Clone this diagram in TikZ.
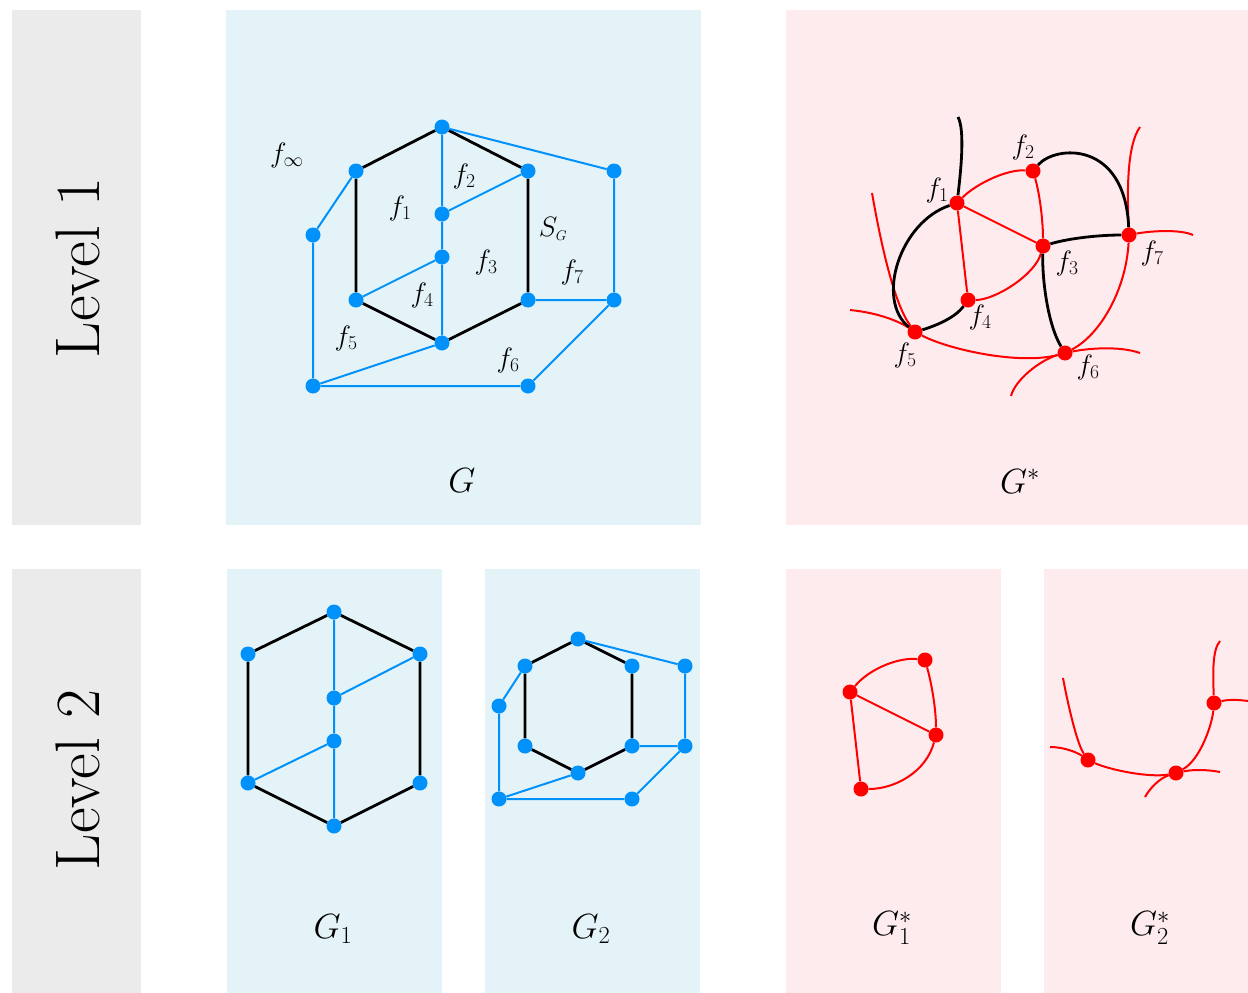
\RequirePackage{fix-cm}
\documentclass[tikz,border=0pt]{standalone}
\usepackage{fontspec}
\usetikzlibrary{backgrounds}
\definecolor{gbg}{RGB}{235,235,235}
\definecolor{bbg}{RGB}{228,243,248}
\definecolor{pbg}{RGB}{254,235,238}
\definecolor{nblue}{RGB}{0,145,250}
\definecolor{nred}{RGB}{255,0,0}
\pgfdeclarelayer{panel}
\pgfdeclarelayer{edges}
\pgfsetlayers{panel,edges,main}
\tikzset{
  bdot/.style={circle,fill=nblue,inner sep=0pt,minimum size=15pt},
  rdot/.style={circle,fill=nred,inner sep=0pt,minimum size=15pt},
  bedge/.style={draw=nblue,line width=2pt},
  hedge/.style={draw=black,line width=2.8pt},
  redge/.style={draw=nred,line width=2pt},
  dedge/.style={draw=black,line width=2.8pt},
  lbl/.style={font=\fontsize{28}{32}\selectfont,inner sep=0pt},
  biglbl/.style={font=\fontsize{35}{40}\selectfont,inner sep=0pt},
  lvl/.style={font=\fontsize{63}{68}\selectfont,rotate=90,inner sep=0pt}
}
\begin{document}
\begin{tikzpicture}[x=1pt,y=-1pt]
\useasboundingbox (0,0) rectangle (1248,993);
\begin{pgfonlayer}{panel}
\fill[gbg] (12,10) rectangle (141,525);
\fill[gbg] (12,569) rectangle (141,993);
\fill[bbg] (226,10) rectangle (701,525);
\fill[pbg] (786,10) rectangle (1248,525);
\fill[bbg] (227,569) rectangle (442,993);
\fill[bbg] (485,569) rectangle (700,993);
\fill[pbg] (786,569) rectangle (1001,993);
\fill[pbg] (1044,569) rectangle (1248,993);
\end{pgfonlayer}

\node[lvl] (lv1) at (78,268) {Level 1};
\node[lvl] (lv2) at (78,780) {Level 2};

% ---------- Level 1: G ----------
\node[bdot] (t) at (442,127) {};
\node[bdot] (ul) at (356,171) {};
\node[bdot] (ur) at (528,171) {};
\node[bdot] (ll) at (356,300) {};
\node[bdot] (lr) at (528,300) {};
\node[bdot] (b) at (442,343) {};
\node[bdot] (iu) at (442,214) {};
\node[bdot] (il) at (442,257) {};
\node[bdot] (rt) at (614,171) {};
\node[bdot] (rb) at (614,300) {};
\node[bdot] (fl) at (313,235) {};
\node[bdot] (bl) at (313,386) {};
\node[bdot] (br) at (528,386) {};
\begin{pgfonlayer}{edges}
\path[hedge] (t) -- (ul) (t) -- (ur) (ul) -- (ll) (ur) -- (lr) (ll) -- (b) (b) -- (lr);
\path[bedge] (t) -- (iu) (iu) -- (ur) (iu) -- (il) (il) -- (ll) (il) -- (b)
  (t) -- (rt) (rt) -- (rb) (lr) -- (rb) (rb) -- (br) (br) -- (bl) (bl) -- (b)
  (bl) -- (fl) (fl) -- (ul);
\end{pgfonlayer}
\node[lbl] (finf) at (287,155) {$f_\infty$};
\node[lbl] (lf1) at (400,208) {$f_1$};
\node[lbl] (lf2) at (464,176) {$f_2$};
\node[lbl] (lf3) at (486,262) {$f_3$};
\node[lbl] (lf4) at (422,295) {$f_4$};
\node[lbl] (lf5) at (346,338) {$f_5$};
\node[lbl] (lf6) at (508,360) {$f_6$};
\node[lbl] (lf7) at (572,272) {$f_7$};
\node[lbl] (sg) at (553,229) {$S_{\scriptscriptstyle G}$};
\node[biglbl] (gl) at (462,481) {$G$};

% ---------- Level 1: G* ----------
\node[rdot] (d1) at (957,203) {};
\node[rdot] (d2) at (1033,171) {};
\node[rdot] (d3) at (1043,246) {};
\node[rdot] (d4) at (968,300) {};
\node[rdot] (d5) at (915,332) {};
\node[rdot] (d6) at (1065,353) {};
\node[rdot] (d7) at (1129,235) {};
\coordinate (e1) at (872,193);
\coordinate (e2) at (850,310);
\coordinate (e3) at (1140,353);
\coordinate (e4) at (1011,396);
\coordinate (e5) at (1140,127);
\coordinate (e6) at (1193,235);
\coordinate (e7) at (958,117);
\begin{pgfonlayer}{edges}
\path[redge] (d1) .. controls (977,183) and (1008,169) .. (d2);
\path[redge] (d1) -- (d3);
\path[redge] (d1) -- (d4);
\path[redge] (d2) .. controls (1040,195) and (1043,222) .. (d3);
\path[redge] (d3) .. controls (1035,275) and (995,300) .. (d4);
\path[redge] (d5) .. controls (950,350) and (1020,365) .. (d6);
\path[redge] (d6) .. controls (1100,335) and (1126,290) .. (d7);
\path[redge] (e1) .. controls (882,250) and (895,305) .. (d5);
\path[redge] (e2) .. controls (880,313) and (900,322) .. (d5);
\path[redge] (d6) .. controls (1090,348) and (1120,346) .. (e3);
\path[redge] (d6) .. controls (1040,360) and (1015,380) .. (e4);
\path[redge] (d7) .. controls (1127,190) and (1127,145) .. (e5);
\path[redge] (d7) .. controls (1150,231) and (1180,229) .. (e6);
\path[dedge] (d1) .. controls (961,170) and (965,130) .. (e7);
\path[dedge] (d1) .. controls (900,222) and (875,300) .. (d5);
\path[dedge] (d5) .. controls (935,326) and (955,318) .. (d4);
\path[dedge] (d3) .. controls (1042,280) and (1048,325) .. (d6);
\path[dedge] (d3) .. controls (1070,238) and (1100,235) .. (d7);
\path[dedge] (d2) .. controls (1055,145) and (1125,140) .. (d7);
\end{pgfonlayer}
\node[lbl] (g1) at (937,190) {$f_1$};
\node[lbl] (g2) at (1023,147) {$f_2$};
\node[lbl] (g3) at (1067,263) {$f_3$};
\node[lbl] (g4) at (980,317) {$f_4$};
\node[lbl] (g5) at (905,355) {$f_5$};
\node[lbl] (g6) at (1088,367) {$f_6$};
\node[lbl] (g7) at (1152,253) {$f_7$};
\node[biglbl] (gsl) at (1020,481) {$G^*$};

% ---------- Level 2: G1 ----------
\node[bdot] (at) at (334,612) {};
\node[bdot] (aul) at (248,654) {};
\node[bdot] (aur) at (420,654) {};
\node[bdot] (aiu) at (334,698) {};
\node[bdot] (ail) at (334,741) {};
\node[bdot] (all) at (248,783) {};
\node[bdot] (alr) at (420,783) {};
\node[bdot] (ab) at (334,826) {};
\begin{pgfonlayer}{edges}
\path[hedge] (at) -- (aul) (at) -- (aur) (aul) -- (all) (aur) -- (alr) (all) -- (ab) (ab) -- (alr);
\path[bedge] (at) -- (aiu) (aiu) -- (aur) (aiu) -- (ail) (ail) -- (all) (ail) -- (ab);
\end{pgfonlayer}
\node[biglbl] (g1l) at (333,929) {$G_1$};

% ---------- Level 2: G2 ----------
\node[bdot] (ct) at (578,639) {};
\node[bdot] (cul) at (525,666) {};
\node[bdot] (cur) at (632,666) {};
\node[bdot] (cll) at (525,746) {};
\node[bdot] (clr) at (632,746) {};
\node[bdot] (cb) at (578,773) {};
\node[bdot] (crt) at (685,666) {};
\node[bdot] (crb) at (685,746) {};
\node[bdot] (cfl) at (499,706) {};
\node[bdot] (cbl) at (499,799) {};
\node[bdot] (cbr) at (632,799) {};
\begin{pgfonlayer}{edges}
\path[hedge] (ct) -- (cul) (ct) -- (cur) (cul) -- (cll) (cur) -- (clr) (cll) -- (cb) (cb) -- (clr);
\path[bedge] (ct) -- (crt) (crt) -- (crb) (clr) -- (crb) (crb) -- (cbr) (cbr) -- (cbl)
  (cbl) -- (cb) (cbl) -- (cfl) (cfl) -- (cul);
\end{pgfonlayer}
\node[biglbl] (g2l) at (591,929) {$G_2$};

% ---------- Level 2: G1* ----------
\node[rdot] (pa) at (850,692) {};
\node[rdot] (pb) at (925,660) {};
\node[rdot] (pc) at (936,735) {};
\node[rdot] (pd) at (861,789) {};
\begin{pgfonlayer}{edges}
\path[redge] (pa) .. controls (870,668) and (900,657) .. (pb);
\path[redge] (pa) -- (pc);
\path[redge] (pa) -- (pd);
\path[redge] (pb) .. controls (932,685) and (936,710) .. (pc);
\path[redge] (pc) .. controls (926,772) and (895,789) .. (pd);
\end{pgfonlayer}
\node[biglbl] (g1s) at (892,928) {$G_1^*$};

% ---------- Level 2: G2* ----------
\node[rdot] (q5) at (1088,760) {};
\node[rdot] (q6) at (1176,773) {};
\node[rdot] (q7) at (1214,703) {};
\coordinate (h1) at (1063,678);
\coordinate (h2) at (1050,747);
\coordinate (h3) at (1220,772);
\coordinate (h4) at (1145,797);
\coordinate (h5) at (1220,641);
\coordinate (h6) at (1248,701);
\begin{pgfonlayer}{edges}
\path[redge] (h1) .. controls (1070,715) and (1078,745) .. (q5);
\path[redge] (h2) .. controls (1065,747) and (1078,753) .. (q5);
\path[redge] (q5) .. controls (1110,770) and (1150,778) .. (q6);
\path[redge] (q6) .. controls (1195,769) and (1210,770) .. (h3);
\path[redge] (q6) .. controls (1160,778) and (1150,788) .. (h4);
\path[redge] (q6) .. controls (1200,760) and (1212,725) .. (q7);
\path[redge] (q7) .. controls (1213,675) and (1212,650) .. (h5);
\path[redge] (q7) .. controls (1230,699) and (1240,700) .. (h6);
\end{pgfonlayer}
\node[biglbl] (g2s) at (1150,928) {$G_2^*$};
\end{tikzpicture}
\end{document}
